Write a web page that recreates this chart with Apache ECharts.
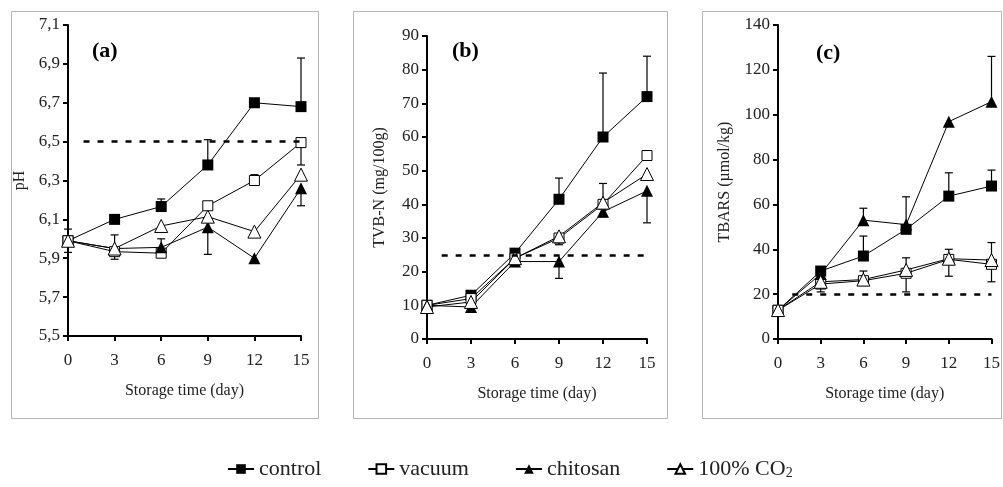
<!doctype html>
<html>
	<head>
		<meta charset="UTF-8">
		<title>storage</title>
		<style type="text/css">
			html, body { margin: 0; padding: 0; background: #fff; }
			#main { width: 1003px; height: 487px; }
		</style>
	</head>
	<body>
		<div id="main"></div>
		<script src="https://cdn.jsdelivr.net/npm/echarts@6/dist/echarts.min.js"></script>
		<script type="text/javascript">
			// storage days
			var days = [0, 3, 6, 9, 12, 15];
			var names = ['control', 'vacuum', 'chitosan', '100% CO2'];

			// (a) pH
			var phControl = [5.99, 6.10, 6.166, 6.38, 6.70, 6.68];
			var phVacuum = [5.99, 5.934, 5.926, 6.17, 6.30, 6.495];
			var phChitosan = [5.99, 5.95, 5.956, 6.06, 5.90, 6.26];
			var phCO2 = [5.99, 5.95, 6.066, 6.114, 6.037, 6.33];
			// [day, value, end of bar]
			var phErr = [[0, 5.99, 6.05], [0, 5.99, 5.93], [3, 5.95, 6.02], [3, 5.93, 5.895],
				[6, 5.956, 6.0], [6, 6.166, 6.205], [9, 6.38, 6.51], [9, 6.06, 5.92],
				[12, 6.30, 6.33], [15, 6.68, 6.93], [15, 6.26, 6.17], [15, 6.495, 6.38]];
			var phTicks = [5.5, 5.7, 5.9, 6.1, 6.3, 6.5, 6.7, 6.9, 7.1];
			var phLimit = 6.5;

			// (b) TVB-N
			var tvbControl = [10, 13, 25.5, 41.5, 60, 72];
			var tvbVacuum = [10, 12, 24, 30, 40, 54.5];
			var tvbChitosan = [10, 9.5, 23, 23, 37.8, 44];
			var tvbCO2 = [9.5, 11, 24, 30.5, 40.5, 49];
			var tvbErr = [[9, 41.5, 47.8], [12, 60, 79], [15, 72, 84], [12, 40.5, 46.2],
				[9, 23, 18], [12, 37.8, 36.3], [15, 44, 34.5], [9, 30, 28]];
			var tvbLimit = 25;

			// (c) TBARS
			var tbControl = [12.8, 30.3, 37, 48.9, 63.7, 68.2];
			var tbVacuum = [12.8, 24.5, 26, 29.3, 35.5, 33.3];
			var tbChitosan = [12.8, 29, 53, 51, 96.9, 105.8];
			var tbCO2 = [12.9, 25.5, 26.5, 30.8, 35.8, 35.2];
			var tbErr = [[6, 37, 45.9], [9, 48.9, 63.4], [12, 63.7, 74.1], [15, 68.2, 75.3],
				[6, 53, 58.3], [15, 105.8, 126], [3, 24.5, 21], [6, 26.5, 30.3],
				[9, 30.8, 36.2], [9, 29.3, 21], [12, 35.8, 40], [12, 35.5, 28],
				[15, 35.2, 43], [15, 33.3, 25.5]];
			var tbLimit = 20;

			var serif = 'Liberation Serif';
			var marks = [
				{ symbol: 'rect', symbolSize: 11, color: '#000', border: 0 },
				{ symbol: 'rect', symbolSize: 10, color: '#fff', border: 1 },
				{ symbol: 'triangle', symbolSize: 12, color: '#000', border: 0 },
				{ symbol: 'triangle', symbolSize: 13, color: '#fff', border: 1 }
			];

			var zip = function(vals){
				return days.map(function(d, i){ return [d, vals[i]]; });
			};

			var grids = [
				{ left: 68, top: 25, width: 233, height: 311 },
				{ left: 427, top: 36, width: 220, height: 303 },
				{ left: 778, top: 25, width: 216, height: 314 }
			];

			var axisLine = { lineStyle: { color: '#000', width: 2 } };
			var axisTick = { length: 5, lineStyle: { color: '#000', width: 2 } };

			var xAxes = grids.map(function(g, i){
				return {
					type: 'value', gridIndex: i, min: 0, max: 15, interval: 3,
					name: 'Storage time (day)', nameLocation: 'middle', nameGap: 47,
					nameTextStyle: { fontFamily: serif, fontSize: 16, color: '#222' },
					axisLine: axisLine, axisTick: axisTick, splitLine: { show: false },
					axisLabel: { fontFamily: serif, fontSize: 17, color: '#222', margin: 16 }
				};
			});

			var yAxes = [
				{
					type: 'value', gridIndex: 0, min: 5.5, max: 7.1,
					name: 'pH', nameGap: 40,
					axisLabel: { customValues: phTicks, formatter: function(v){ return v.toFixed(1).replace('.', ','); } },
					axisTick: { customValues: phTicks }
				},
				{ type: 'value', gridIndex: 1, min: 0, max: 90, interval: 10, name: 'TVB-N (mg/100g)', nameGap: 39 },
				{ type: 'value', gridIndex: 2, min: 0, max: 140, interval: 20, name: 'TBARS (µmol/kg)', nameGap: 45 }
			].map(function(a){
				a.nameLocation = 'middle';
				a.nameTextStyle = { fontFamily: serif, fontSize: 16, color: '#222' };
				a.axisLine = axisLine;
				a.axisTick = Object.assign({}, axisTick, a.axisTick || {});
				a.axisLabel = Object.assign({ fontFamily: serif, fontSize: 17, color: '#222', margin: 8 }, a.axisLabel || {});
				a.splitLine = { show: false };
				return a;
			});

			var panels = [
				{ vals: [phControl, phVacuum, phChitosan, phCO2], err: phErr, limit: phLimit },
				{ vals: [tvbControl, tvbVacuum, tvbChitosan, tvbCO2], err: tvbErr, limit: tvbLimit },
				{ vals: [tbControl, tbVacuum, tbChitosan, tbCO2], err: tbErr, limit: tbLimit }
			];

			var series = [];
			panels.forEach(function(p, gi){
				// error bars (cap only at far end)
				series.push({
					type: 'custom', xAxisIndex: gi, yAxisIndex: gi, z: 1, silent: true,
					data: p.err,
					encode: { x: 0, y: [1, 2] },
					renderItem: function(params, api){
						var a = api.coord([api.value(0), api.value(1)]);
						var b = api.coord([api.value(0), api.value(2)]);
						var st = { stroke: '#000', lineWidth: 1.2 };
						return {
							type: 'group',
							children: [
								{ type: 'line', shape: { x1: a[0], y1: a[1], x2: b[0], y2: b[1] }, style: st },
								{ type: 'line', shape: { x1: b[0] - 4, y1: b[1], x2: b[0] + 4, y2: b[1] }, style: st }
							]
						};
					}
				});
				p.vals.forEach(function(v, si){
					var m = marks[si];
					var s = {
						name: names[si], type: 'line', xAxisIndex: gi, yAxisIndex: gi, z: 3,
						data: zip(v),
						symbol: m.symbol, symbolSize: m.symbolSize,
						lineStyle: { color: '#000', width: 1 },
						itemStyle: { color: m.color, borderColor: '#000', borderWidth: m.border },
						emphasis: { disabled: true }
					};
					if(si === 0){
						s.markLine = {
							silent: true, symbol: 'none', label: { show: false },
							lineStyle: { color: '#000', width: 2.5, type: [6, 8] },
							data: [[{ coord: [1, p.limit] }, { coord: [15, p.limit] }]]
						};
					}
					series.push(s);
				});
			});

			var frame = function(x, y, w, h){
				return { type: 'rect', shape: { x: x, y: y, width: w, height: h }, style: { fill: 'none', stroke: '#b5b5b5', lineWidth: 1 }, silent: true, z: -1 };
			};
			var tag = function(t, x, y){
				return { type: 'text', x: x, y: y, style: { text: t, font: 'bold 22px "Liberation Serif"', fill: '#000' } };
			};

			var option = {
				animation: false,
				grid: grids,
				xAxis: xAxes,
				yAxis: yAxes,
				series: series,
				legend: {
					left: 222, top: 453,
					itemWidth: 26, itemHeight: 12, itemGap: 46,
					data: names,
					textStyle: {
						fontFamily: serif, fontSize: 22, color: '#222',
						rich: { sub: { fontFamily: serif, fontSize: 14, color: '#222', padding: [9, 0, 0, 0] } }
					},
					formatter: function(n){ return n === '100% CO2' ? '100% CO{sub|2}' : n; }
				},
				graphic: [
					frame(11.5, 11.5, 307, 407),
					frame(353.5, 11.5, 314, 407),
					frame(702.5, 11.5, 299, 407),
					tag('(a)', 92, 40),
					tag('(b)', 452, 40),
					tag('(c)', 816, 42)
				]
			};

			var chart = echarts.init(document.getElementById('main'));
			chart.setOption(option);
		</script>
	</body>
</html>
